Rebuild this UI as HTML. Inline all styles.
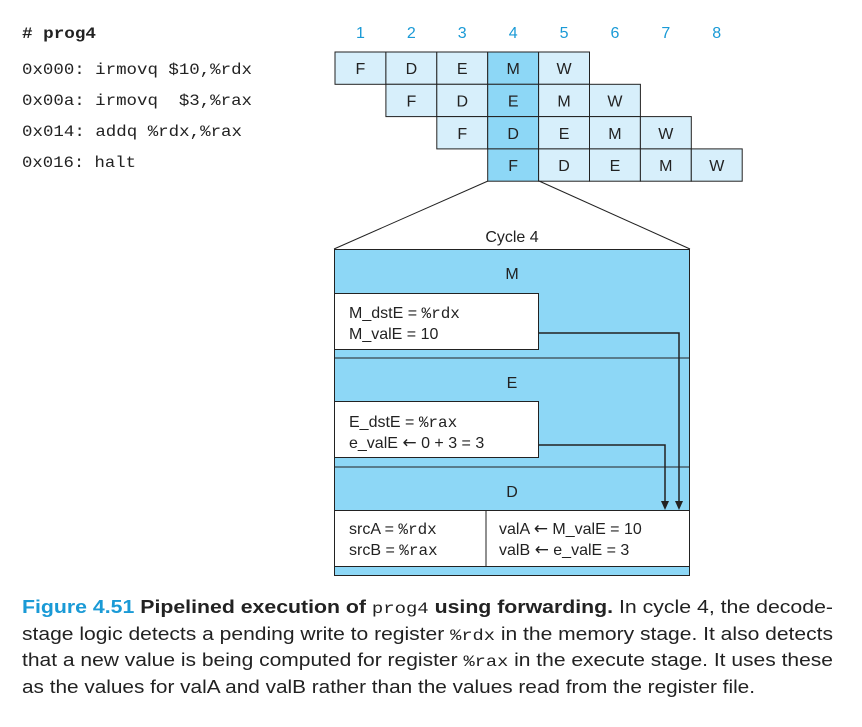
<!DOCTYPE html>
<html><head><meta charset="utf-8"><style>
html,body{margin:0;padding:0;background:#fff;}
svg{display:block;}
.mono{font-family:"Liberation Mono",monospace;font-size:16px;fill:#222;}
.sans{font-family:"Liberation Sans",sans-serif;font-size:16px;fill:#222;}
.arr{font-family:"DejaVu Sans",sans-serif;font-size:17px;}
.cap{font-family:"Liberation Sans Narrow","Liberation Sans",sans-serif;font-size:18px;fill:#222;}
</style></head><body>
<svg width="862" height="727" viewBox="0 0 862 727">
<g id="code">
<text class="mono" x="22" y="38" font-size="17" font-weight="bold" textLength="74" lengthAdjust="spacingAndGlyphs">#&#160;prog4</text>
<text class="mono" x="22" y="74" font-size="17" textLength="230" lengthAdjust="spacingAndGlyphs">0x000: irmovq $10,%rdx</text>
<text class="mono" x="22" y="105" font-size="17" textLength="230" lengthAdjust="spacingAndGlyphs" xml:space="preserve">0x00a: irmovq  $3,%rax</text>
<text class="mono" x="22" y="136" font-size="17" textLength="220" lengthAdjust="spacingAndGlyphs">0x014: addq %rdx,%rax</text>
<text class="mono" x="22" y="167" font-size="17" textLength="114" lengthAdjust="spacingAndGlyphs">0x016: halt</text>
</g>
<g id="grid"></g>
<g stroke="#222" stroke-width="1" fill="none">
<line x1="488" y1="181" x2="334" y2="249"/><line x1="539" y1="181" x2="690" y2="249"/>
</g>
<text class="sans" x="512" y="242" font-size="17" text-anchor="middle">Cycle 4</text>
<g>
<rect x="334.5" y="249.5" width="355" height="326" fill="#8dd7f6" stroke="#222"/>
<line x1="334" y1="358" x2="690" y2="358" stroke="#222"/>
<line x1="334" y1="467" x2="690" y2="467" stroke="#222"/>
<text class="sans" x="512" y="279" font-size="17" text-anchor="middle">M</text>
<text class="sans" x="512" y="388" font-size="17" text-anchor="middle">E</text>
<text class="sans" x="512" y="497" font-size="17" text-anchor="middle">D</text>
<rect x="334.5" y="293.5" width="204" height="56" fill="#fff" stroke="#222"/>
<text class="sans" x="349" y="318" font-size="17">M_dstE = <tspan class="mono" font-size="16">%rdx</tspan></text>
<text class="sans" x="349" y="339" font-size="17">M_valE = 10</text>
<rect x="334.5" y="401.5" width="204" height="56" fill="#fff" stroke="#222"/>
<text class="sans" x="349" y="427" font-size="17">E_dstE = <tspan class="mono" font-size="16">%rax</tspan></text>
<text class="sans" x="349" y="448" font-size="17">e_valE <tspan class="arr">←</tspan> 0 + 3 = 3</text>
<rect x="334.5" y="510.5" width="355" height="56" fill="#fff" stroke="#222"/>
<line x1="486" y1="510" x2="486" y2="567" stroke="#222"/>
<text class="sans" x="349" y="534" font-size="17">srcA = <tspan class="mono" font-size="16">%rdx</tspan></text>
<text class="sans" x="349" y="555" font-size="17">srcB = <tspan class="mono" font-size="16">%rax</tspan></text>
<text class="sans" x="499" y="534" font-size="17">valA <tspan class="arr">←</tspan> M_valE = 10</text>
<text class="sans" x="499" y="555" font-size="17">valB <tspan class="arr">←</tspan> e_valE = 3</text>
<polyline points="538,333 679,333 679,502" fill="none" stroke="#222" stroke-width="1.5"/>
<polygon points="675,501 683,501 679,510" fill="#222"/>
<polyline points="538,445 665,445 665,502" fill="none" stroke="#222" stroke-width="1.5"/>
<polygon points="661,501 669,501 665,510" fill="#222"/>
</g>
<g>
<text class="cap" x="22" y="613" textLength="811" lengthAdjust="spacingAndGlyphs"><tspan fill="#1a9ad6" font-weight="bold">Figure 4.51</tspan>  <tspan font-weight="bold">Pipelined execution of </tspan><tspan class="mono" font-size="17">prog4</tspan><tspan font-weight="bold"> using forwarding.</tspan> In cycle 4, the decode-</text>
<text class="cap" x="22" y="640" textLength="811" lengthAdjust="spacingAndGlyphs">stage logic detects a pending write to register <tspan class="mono" font-size="17">%rdx</tspan> in the memory stage. It also detects</text>
<text class="cap" x="22" y="666" textLength="811" lengthAdjust="spacingAndGlyphs">that a new value is being computed for register <tspan class="mono" font-size="17">%rax</tspan> in the execute stage. It uses these</text>
<text class="cap" x="22" y="693" textLength="733" lengthAdjust="spacingAndGlyphs">as the values for valA and valB rather than the values read from the register file.</text>
</g>
</svg>
<script>
const cycles=[1,2,3,4,5,6,7,8];
const stages=["F","D","E","M","W"];
const instrStart=[1,2,3,4];
const highlightCycle=4;
const NS="http://www.w3.org/2000/svg";
const g=document.getElementById('grid');
const x0=335,cw=50.9,y0=52,rh=32.3;
function cx(c){return x0+(c-1)*cw;}
function ry(r){return y0+r*rh;}
cycles.forEach(c=>{
  const t=document.createElementNS(NS,'text');
  
  
  t.setAttribute('x',cx(c)+cw/2);t.setAttribute('y',38);
  t.setAttribute('text-anchor','middle');t.setAttribute('class','sans');
  t.setAttribute('font-size','15');t.style.fill='#1a9ad6';t.textContent=c;g.appendChild(t);
});
instrStart.forEach((s,r)=>{
  stages.forEach((st,i)=>{
    const c=s+i;
    const rect=document.createElementNS(NS,'rect');
    
    
    rect.setAttribute('x',cx(c));rect.setAttribute('y',ry(r));
    rect.setAttribute('width',cw);rect.setAttribute('height',rh);
    rect.setAttribute('fill',c===highlightCycle?'#8dd7f6':'#d7effb');
    rect.setAttribute('stroke','#222');g.appendChild(rect);
    const t=document.createElementNS(NS,'text');
    
    
    t.setAttribute('x',cx(c)+cw/2);t.setAttribute('y',ry(r)+rh/2+6);
    t.setAttribute('text-anchor','middle');t.setAttribute('class','sans');
    t.setAttribute('font-size','17');
    t.textContent=st;g.appendChild(t);
  });
});
</script>
</body></html>
